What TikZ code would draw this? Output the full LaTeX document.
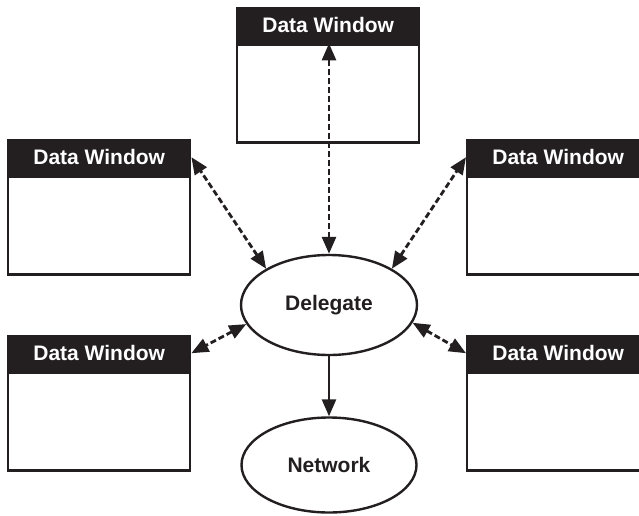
\documentclass[tikz,border=0pt]{standalone}
\usepackage{fontspec}
\setmainfont{Liberation Sans}
\usetikzlibrary{shapes.geometric,arrows.meta}
\definecolor{ink}{HTML}{231F20}
\begin{document}
\begin{tikzpicture}[x=1pt,y=-1pt,
 hdr/.style={rectangle, draw=ink, fill=ink, line width=2.4pt, minimum width=182pt, minimum height=34pt, inner sep=0pt, text=white, font=\bfseries\fontsize{21}{21}\selectfont, anchor=north west},
 body/.style={rectangle, draw=ink, line width=2.4pt, minimum width=182pt, minimum height=98pt, inner sep=0pt, anchor=north},
 oval/.style={ellipse, draw=ink, line width=2.4pt, inner sep=0pt, text=ink, font=\bfseries\fontsize{21}{21}\selectfont},
 tip/.style={Triangle[length=17pt,width=14pt]},
 dbl/.style={draw=ink, line width=2.8pt, dash pattern=on 6pt off 3pt, {Triangle[length=17pt,width=14pt]}-{Triangle[length=17pt,width=14pt]}},
 one/.style={draw=ink, line width=2.6pt, -{Triangle[length=17pt,width=14pt]}}]
\useasboundingbox (0,0) rectangle (639,516);
\fill[white] (0,0) rectangle (639,516);
% windows
\node[hdr] (wTh) at (236,7) {Data Window};
\node[body] (wTb) at (wTh.south) {};
\node[hdr] (wULh) at (7,139) {Data Window};
\node[body] (wULb) at (wULh.south) {};
\node[hdr] (wURh) at (466,139) {Data Window};
\node[body] (wURb) at (wURh.south) {};
\node[hdr] (wLLh) at (7,335) {Data Window};
\node[body] (wLLb) at (wLLh.south) {};
\node[hdr] (wLRh) at (466,335) {Data Window};
\node[body] (wLRb) at (wLRh.south) {};
% ovals
\node[oval, minimum width=176pt, minimum height=100pt] (del) at (329,305) {Delegate};
\node[oval, minimum width=175pt, minimum height=95pt] (net) at (329,465) {Network};
% connectors
\draw[dbl] (del.north) -- (del.north |- wTh.south);
\draw[dbl] (del.150) -- (wULh.east);
\draw[dbl] (del.30) -- (wURh.west);
\draw[dbl] (del.193) -- (wLLh.east);
\draw[dbl] (del.-12) -- (wLRh.west);
\draw[one] (del.south) -- (net.north);
\end{tikzpicture}
\end{document}
